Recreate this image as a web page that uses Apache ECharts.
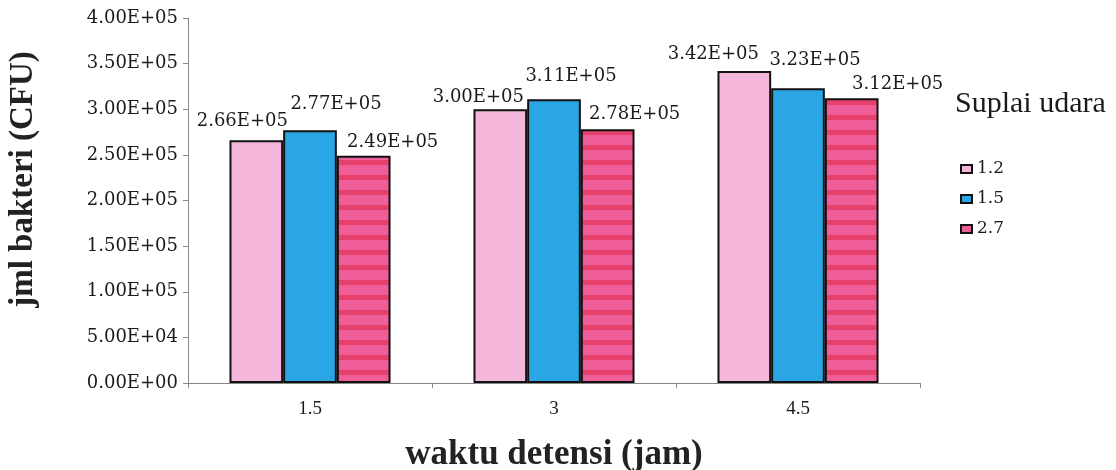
<!DOCTYPE html>
<html>
<head>
<meta charset="utf-8">
<script src="https://cdn.jsdelivr.net/npm/echarts@6/dist/echarts.min.js"></script>
<style>
  html, body { margin: 0; padding: 0; background: #fff; }
  #chart { width: 1116px; height: 470px; }
</style>
</head>
<body>
<div id="chart"></div>
<script>
// Detention time (hours) on the x axis
const categories = ['1.5', '3', '4.5'];
// Air supply levels (legend)
const seriesNames = ['1.2', '1.5', '2.7'];
// Bacteria counts (CFU) per air supply level
const supply12 = [266000, 300000, 342000];
const supply15 = [277000, 311000, 323000];
const supply27 = [249000, 278000, 312000];

// Label nudges so the value labels sit like the printed figure
const labelShift = [
  [[-14, -5], [-22, 2], [-31, -3]],
  [[26, -12], [17, -9], [17, -14]],
  [[29, 1], [27, -1], [46, 0]]
];

function sci(v) {
  if (v === 0) return '0.00E+00';
  const e = Math.floor(Math.log10(Math.abs(v)));
  const m = v / Math.pow(10, e);
  const es = (e < 0 ? '-' : '+') + String(Math.abs(e)).padStart(2, '0');
  return m.toFixed(2) + 'E' + es;
}

// horizontal stripe fill for the 2.7 series
function stripeCanvas() {
  const c = document.createElement('canvas');
  c.width = 8; c.height = 15;
  const g = c.getContext('2d');
  g.fillStyle = '#ef5e98';
  g.fillRect(0, 0, 8, 15);
  g.fillStyle = '#e6406c';
  g.fillRect(0, 10, 8, 5);
  return c;
}

const serif = 'Liberation Serif';
const numFont = 'DejaVu Serif';

const colors = [
  '#f5b6dc',
  '#2aa6e4',
  { image: stripeCanvas(), repeat: 'repeat' }
];
const values = [supply12, supply15, supply27];

const series = seriesNames.map((name, si) => ({
  name: name,
  type: 'bar',
  barGap: '0%',
  barCategoryGap: '34%',
  itemStyle: { color: colors[si], borderColor: '#111', borderWidth: 2 },
  data: values[si].map((v, ci) => ({
    value: v,
    label: {
      show: true,
      position: 'top',
      distance: 5,
      offset: labelShift[si][ci],
      formatter: p => sci(p.value),
      fontFamily: numFont,
      fontSize: 18,
      color: '#1a1a1a'
    }
  }))
}));

const chart = echarts.init(document.getElementById('chart'), null, { renderer: 'canvas' });
chart.setOption({
  backgroundColor: '#ffffff',
  animation: false,
  title: {
    text: 'Suplai udara',
    left: 955,
    top: 89,
    padding: 0,
    textStyle: { fontFamily: serif, fontSize: 30, fontWeight: 'normal', color: '#1a1a1a' }
  },
  legend: {
    orient: 'vertical',
    left: 960,
    top: 160,
    padding: 0,
    itemWidth: 11,
    itemHeight: 8,
    itemGap: 12,
    icon: 'rect',
    itemStyle: { borderColor: '#111', borderWidth: 2 },
    textStyle: { fontFamily: numFont, fontSize: 17, lineHeight: 18, color: '#1a1a1a', padding: [0, 0, 0, 0] },
    data: seriesNames
  },
  grid: { left: 188, right: 196, top: 18, bottom: 87, containLabel: false, outerBoundsMode: 'none' },
  xAxis: {
    type: 'category',
    data: categories,
    name: 'waktu detensi (jam)',
    nameLocation: 'middle',
    nameGap: 54,
    nameTextStyle: { fontFamily: serif, fontSize: 35, fontWeight: 'bold', color: '#222' },
    axisLine: { lineStyle: { color: '#888', width: 1 } },
    axisTick: { show: true, length: 5, lineStyle: { color: '#888' } },
    axisLabel: { margin: 17, fontFamily: serif, fontSize: 19, color: '#1a1a1a' }
  },
  yAxis: {
    type: 'value',
    min: 0,
    max: 400000,
    interval: 50000,
    name: 'jml bakteri (CFU)',
    nameLocation: 'middle',
    nameGap: 148,
    nameRotate: 90,
    nameTextStyle: { fontFamily: serif, fontSize: 33, fontWeight: 'bold', color: '#222', padding: [0, 0, 0, 42] },
    axisLine: { show: true, lineStyle: { color: '#888', width: 1 } },
    axisTick: { show: true, length: 5, lineStyle: { color: '#888' } },
    splitLine: { show: false },
    axisLabel: {
      margin: 10,
      fontFamily: numFont,
      fontSize: 18,
      color: '#1a1a1a',
      formatter: v => sci(v)
    }
  },
  series: series
});
</script>
</body>
</html>
